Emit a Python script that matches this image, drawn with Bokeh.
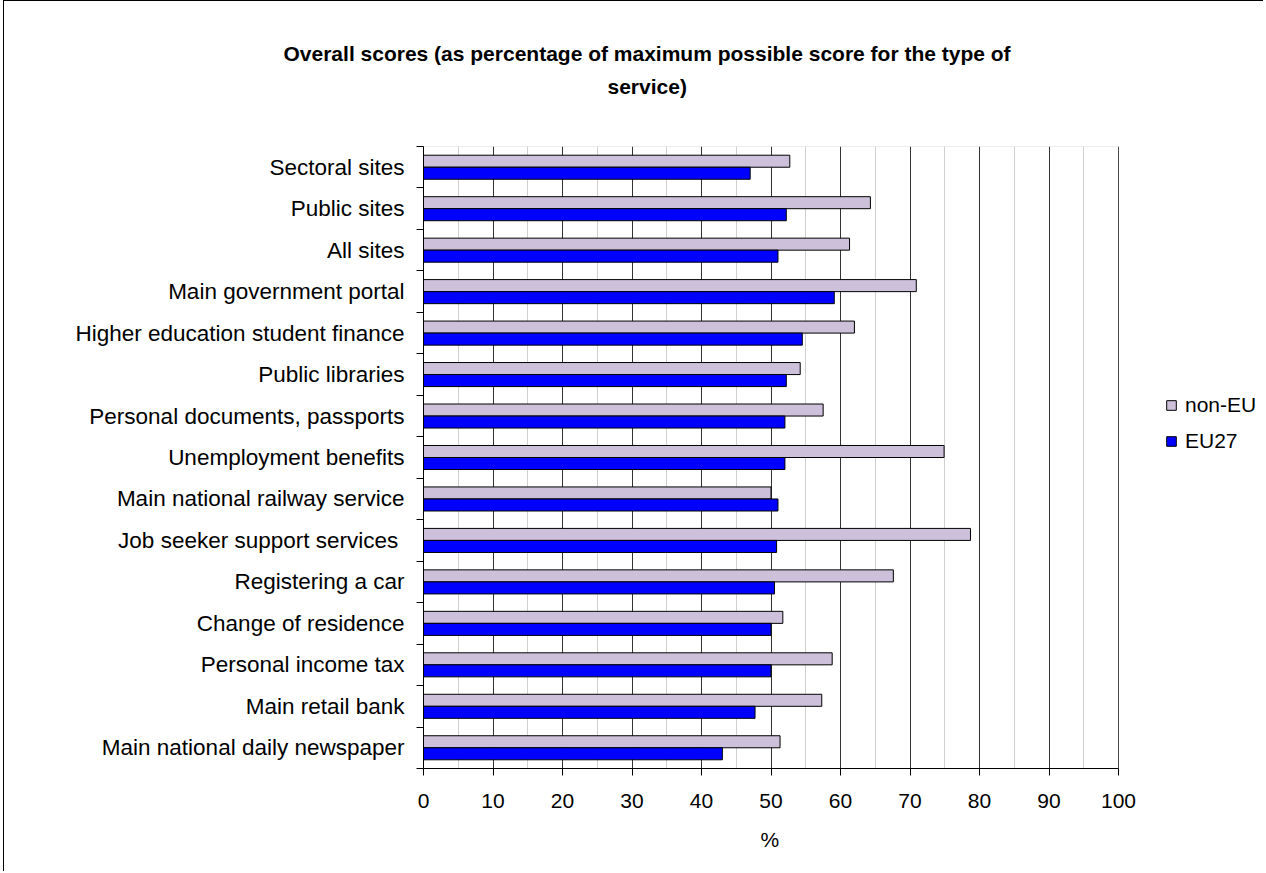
from bokeh.plotting import figure
from bokeh.models import (Range1d, FixedTicker, Legend, LegendItem, Title, BoxAnnotation,
                          ColumnDataSource)
from bokeh.embed import file_html
from bokeh.resources import INLINE

categories = ["Sectoral sites", "Public sites", "All sites", "Main government portal",
              "Higher education student finance", "Public libraries",
              "Personal documents, passports", "Unemployment benefits",
              "Main national railway service", "Job seeker support services ",
              "Registering a car", "Change of residence", "Personal income tax",
              "Main retail bank", "Main national daily newspaper"]
non_eu = [52.7, 64.3, 61.3, 70.9, 62.0, 54.2, 57.5, 74.9, 50.0, 78.7, 67.6, 51.7, 58.8, 57.3, 51.3]
eu27 = [47.0, 52.2, 51.0, 59.1, 54.5, 52.2, 52.0, 52.0, 51.0, 50.8, 50.5, 50.0, 50.0, 47.7, 43.0]
x_ticks = list(range(0, 101, 10))
x_minor = list(range(5, 100, 10))
title_lines = ["Overall scores (as percentage of maximum possible score for the type of",
               "service)"]
x_title = "%"
series_names = ["non-EU", "EU27"]
series_colors = ["#CCC0DA", "#0000FF"]

FONT = "Liberation Sans"
n = len(categories)
centers = [i + 0.5 for i in range(n)]
bar_h = 0.29

src = ColumnDataSource(dict(
    cat=categories,
    y_non=[c - bar_h / 2 for c in centers],
    y_eu=[c + bar_h / 2 for c in centers],
    non_eu=non_eu,
    eu27=eu27,
))

# the frame runs on to the right edge so that the legend sits inside it;
# the value axis itself is bounded to 0..100
p = figure(width=1260, height=871, output_backend="svg", toolbar_location=None,
           x_range=Range1d(0, 121), y_range=Range1d(n, 0),
           min_border_left=419, min_border_right=0, min_border_top=145, min_border_bottom=104)
p.title.visible = False

r1 = p.hbar(y="y_non", right="non_eu", left=0, height=bar_h, source=src,
            fill_color=series_colors[0], line_color="black", line_width=1)
r2 = p.hbar(y="y_eu", right="eu27", left=0, height=bar_h, source=src,
            fill_color=series_colors[1], line_color="black", line_width=1)

# x axis & grid
p.xaxis.bounds = (0, 100)
p.xaxis.ticker = FixedTicker(ticks=x_ticks, minor_ticks=[])
p.xaxis.major_label_text_font = FONT
p.xaxis.major_label_text_font_size = "21px"
p.xaxis.major_label_text_color = "black"
p.xaxis.major_tick_out = 7
p.xaxis.major_tick_in = 0
p.xaxis.major_tick_line_color = "black"
p.xaxis.axis_line_color = "black"
p.xaxis.major_label_standoff = 18

p.xgrid.ticker = FixedTicker(ticks=x_ticks, minor_ticks=x_minor)
p.xgrid.grid_line_color = "#333333"
p.xgrid.minor_grid_line_color = "#cfcfcf"
p.ygrid.visible = False

# y axis: labels at category centres, tick marks at category boundaries
p.yaxis.ticker = FixedTicker(ticks=centers, minor_ticks=list(range(n + 1)))
p.yaxis.major_label_overrides = {c: lab for c, lab in zip(centers, categories)}
p.yaxis.major_label_text_font = FONT
p.yaxis.major_label_text_font_size = "22.5px"
p.yaxis.major_label_text_color = "black"
p.yaxis.major_tick_out = 0
p.yaxis.major_tick_in = 0
p.yaxis.minor_tick_out = 7
p.yaxis.minor_tick_in = 0
p.yaxis.minor_tick_line_color = "black"
p.yaxis.axis_line_color = "black"
p.yaxis.major_label_standoff = 12

# grey plot-area border over the 0..100 region only
p.outline_line_color = None
p.add_layout(BoxAnnotation(left=0, right=100, top=0, bottom=n, fill_alpha=0,
                           line_color="#808080", line_width=1, level="underlay"))
p.background_fill_color = "white"
p.border_fill_color = "white"
p.styles = {"margin-left": "3px",
            "border-left": "1px solid black", "border-top": "1px solid black"}

legend = Legend(items=[LegendItem(label=series_names[0], renderers=[r1]),
                       LegendItem(label=series_names[1], renderers=[r2])],
                location=(742, 315), padding=0, margin=0, spacing=12,
                glyph_width=12, glyph_height=12, label_height=12, label_standoff=8,
                label_text_font=FONT, label_text_font_size="21px", label_text_color="black",
                border_line_color=None, background_fill_alpha=0)
p.add_layout(legend)

# x-axis title "%", centred under the 0..100 axis
p.add_layout(Title(text=x_title, align="left", offset=337, standoff=35, vertical_align="top",
                   text_font=FONT, text_font_style="normal", text_font_size="21px",
                   text_color="black"), "below")

# chart title: spacer nearest the frame, then the two centred lines
p.add_layout(Title(text=" ", text_font_size="2px", standoff=41), "above")
p.add_layout(Title(text=title_lines[1], align="left", offset=184, standoff=8,
                   text_font=FONT, text_font_style="bold", text_font_size="21px",
                   text_color="black"), "above")
p.add_layout(Title(text=title_lines[0], align="left", offset=-140, standoff=8,
                   text_font=FONT, text_font_style="bold", text_font_size="21px",
                   text_color="black"), "above")

open("out.html", "w").write(file_html(p, INLINE))
